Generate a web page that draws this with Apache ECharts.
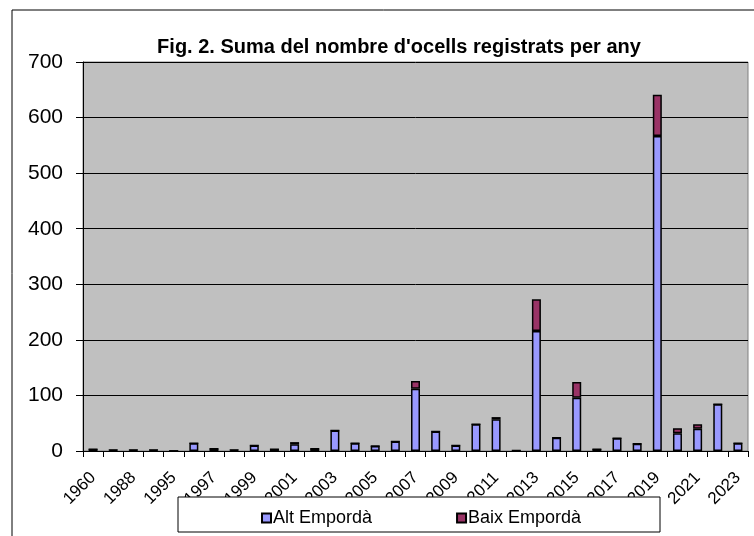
<!DOCTYPE html>
<html>
<head>
<meta charset="utf-8">
<script src="https://cdn.jsdelivr.net/npm/echarts@6/dist/echarts.min.js"></script>
<style>
  html, body { margin: 0; padding: 0; background: #fff; }
  #chart { width: 754px; height: 536px; }
</style>
</head>
<body>
<div id="chart"></div>
<script>
// years (two hidden labels between 1960 and 1995 guessed)
const years = ['1960', '1984', '1988', '1990', '1995', '1996', '1997', '1998', '1999', '2000',
  '2001', '2002', '2003', '2004', '2005', '2006', '2007', '2008', '2009', '2010',
  '2011', '2012', '2013', '2014', '2015', '2016', '2017', '2018', '2019', '2020',
  '2021', '2022', '2023'];

const altEmporda = [3, 2, 2, 2, 0, 14, 4, 2, 10, 3,
  12, 4, 37, 14, 9, 17, 112, 35, 10, 48,
  57, 1, 216, 24, 96, 3, 23, 13, 567, 32,
  40, 84, 14];

const baixEmporda = [0, 0, 0, 0, 0, 0, 0, 0, 0, 0,
  4, 0, 0, 0, 0, 0, 14, 0, 0, 0,
  4, 0, 57, 0, 28, 0, 0, 0, 74, 9,
  8, 0, 0];

const font = 'Arial, "Liberation Sans", sans-serif';

const chart = echarts.init(document.getElementById('chart'));

chart.setOption({
  animation: false,
  textStyle: { fontFamily: font },
  title: {
    text: "Fig. 2. Suma del nombre d'ocells registrats per any",
    left: 394,
    textAlign: 'center',
    top: 32,
    textStyle: { fontSize: 20, fontWeight: 'bold', color: '#000', fontFamily: font }
  },
  graphic: [
    {
      type: 'rect',
      shape: { x: 12, y: 10, width: 760, height: 560 },
      style: { fill: 'none', stroke: '#000', lineWidth: 1 },
      z: -1
    },
    {
      type: 'rect',
      shape: { x: 178, y: 497, width: 482, height: 35 },
      style: { fill: '#fff', stroke: '#000', lineWidth: 1 },
      z: 5
    }
  ],
  legend: {
    data: ['Alt Empordà', 'Baix Empordà'],
    top: 504,
    left: 256,
    itemGap: 84,
    itemWidth: 9,
    itemHeight: 9,
    icon: 'rect',
    z: 10,
    textStyle: { fontSize: 18, color: '#000', padding: [0, 0, 0, -3], fontFamily: font }
  },
  grid: {
    left: 83,
    right: 6,
    top: 62,
    bottom: 85,
    show: true,
    backgroundColor: '#c0c0c0',
    borderColor: '#808080',
    borderWidth: 1
  },
  xAxis: {
    type: 'category',
    data: years,
    axisLine: { lineStyle: { color: '#000', width: 1 } },
    axisTick: { show: true, alignWithLabel: false, interval: 0, length: 6, lineStyle: { color: '#000' } },
    axisLabel: { interval: 1, rotate: 45, fontSize: 17, color: '#000', margin: 24, fontFamily: font }
  },
  yAxis: {
    type: 'value',
    min: 0,
    max: 700,
    interval: 100,
    axisLine: { show: true, lineStyle: { color: '#000' } },
    axisTick: { show: true, length: 7, lineStyle: { color: '#000' } },
    axisLabel: { fontSize: 21, color: '#000', margin: 20, fontFamily: font },
    splitLine: { lineStyle: { color: '#000', width: 1 } }
  },
  series: [
    {
      name: 'Alt Empordà',
      type: 'bar',
      stack: 'total',
      data: altEmporda,
      barWidth: 9,
      itemStyle: { color: '#9999ff', borderColor: '#000', borderWidth: 1.5 }
    },
    {
      name: 'Baix Empordà',
      type: 'bar',
      stack: 'total',
      data: baixEmporda,
      barWidth: 9,
      itemStyle: { color: '#993366', borderColor: '#000', borderWidth: 1.5 }
    }
  ]
});
</script>
</body>
</html>
